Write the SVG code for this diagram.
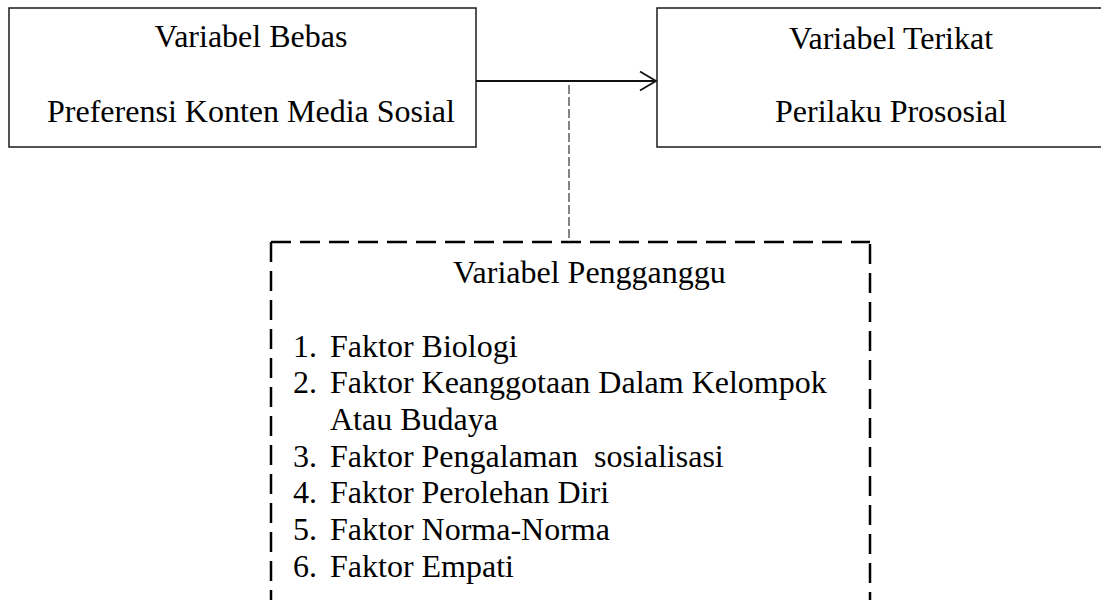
<svg xmlns="http://www.w3.org/2000/svg" width="1101" height="600" viewBox="0 0 1101 600">
<style>
.box{fill:#fff;stroke:#1a1a1a;stroke-width:1.5}
.t{font-family:'Liberation Serif',Tinos,'Times New Roman',Times,serif;font-size:32px;fill:#000}
.c{text-anchor:middle}
.dash{fill:none;stroke:#000;stroke-width:2.5;stroke-dasharray:20 9}
.thin{fill:none;stroke:#333;stroke-width:1.2;stroke-dasharray:9 3}
.conn{fill:none;stroke:#111;stroke-width:1.8}
</style>
<rect width="1101" height="600" fill="#fff"/>
<g id="node-bebas">
<rect class="box" x="9" y="8" width="467" height="139"/>
<text class="t c" x="251" y="47" font-family="Liberation Serif">Variabel Bebas</text>
<text class="t c" x="251" y="122" font-family="Liberation Serif">Preferensi Konten Media Sosial</text>
</g>
<g id="node-terikat">
<rect class="box" x="657" y="8" width="470" height="139"/>
<text class="t c" x="891" y="49" font-family="Liberation Serif">Variabel Terikat</text>
<text class="t c" x="891" y="122" font-family="Liberation Serif">Perilaku Prososial</text>
</g>
<g id="node-pengganggu">
<path class="dash" d="M271,242 H870"/>
<path class="dash" d="M271,242 V610"/>
<path class="dash" d="M870,244 V610"/>
<text class="t" x="453" y="283">Variabel Pengganggu</text>
<text class="t" x="293" y="357">1.</text><text class="t" x="330" y="357">Faktor Biologi</text>
<text class="t" x="293" y="393">2.</text><text class="t" x="330" y="393">Faktor Keanggotaan Dalam Kelompok</text>
<text class="t" x="330" y="430">Atau Budaya</text>
<text class="t" x="293" y="467">3.</text><text class="t" x="330" y="467" style="white-space:pre">Faktor Pengalaman  sosialisasi</text>
<text class="t" x="293" y="503">4.</text><text class="t" x="330" y="503">Faktor Perolehan Diri</text>
<text class="t" x="293" y="540">5.</text><text class="t" x="330" y="540">Faktor Norma-Norma</text>
<text class="t" x="293" y="577">6.</text><text class="t" x="330" y="577">Faktor Empati</text>
</g>
<g id="connectors">
<path class="conn" d="M476,81 H656"/>
<path class="conn" d="M640,71.5 L656,81 L640,90.5"/>
<path class="thin" d="M569,85 V242"/>
</g>
</svg>
